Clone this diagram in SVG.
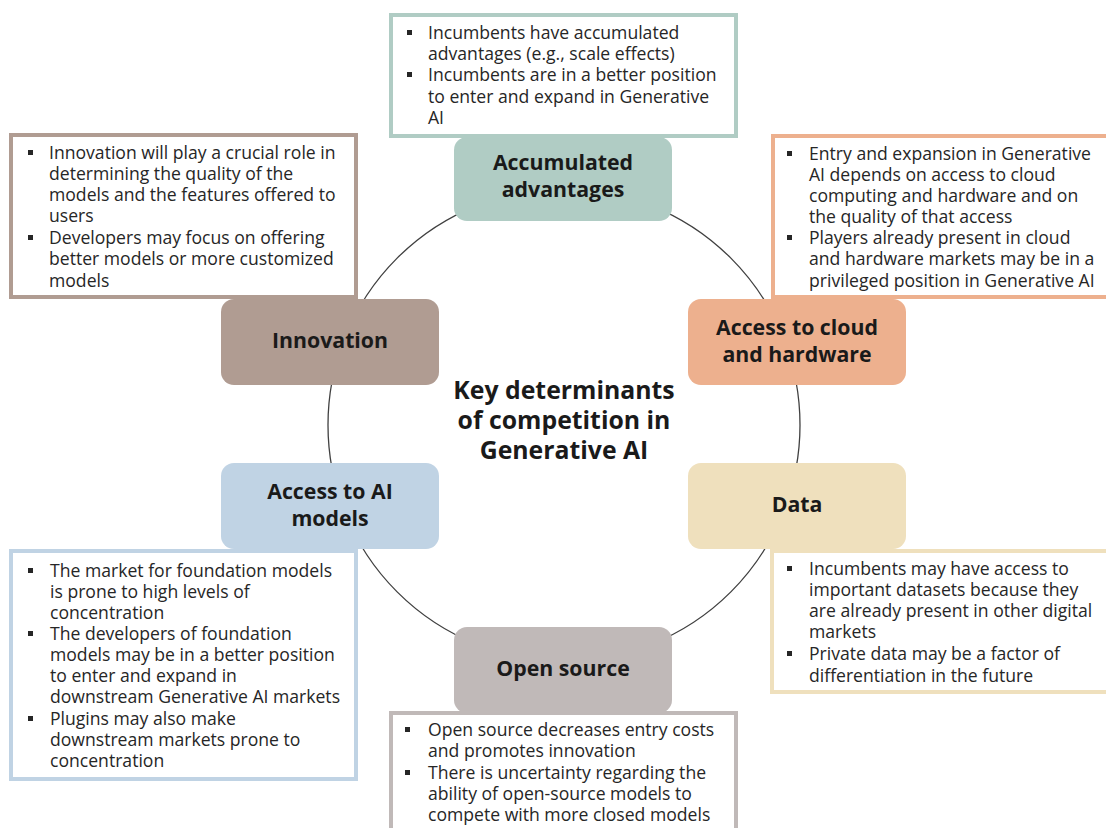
<svg xmlns="http://www.w3.org/2000/svg" width="1106" height="828" viewBox="0 0 1106 828">
<style>
.body{font-family:"Open Sans","Liberation Sans",sans-serif;font-size:17.6px;fill:#262626}
.lbl{font-family:"Open Sans","Liberation Sans",sans-serif;font-size:21.3px;font-weight:bold;fill:#1a1a1a;text-anchor:middle}
.ctr{font-family:"Open Sans","Liberation Sans",sans-serif;font-size:24.8px;font-weight:bold;fill:#1a1a1a;text-anchor:middle}
.tb{fill:#ffffff;stroke-width:4}
.bul{fill:#262626}
</style>
<rect width="1106" height="828" fill="#ffffff"/>
<g id="connectors">
<circle cx="564" cy="425" r="236" fill="none" stroke="#404040" stroke-width="1.3"/>
</g>
<g id="center">
<text class="ctr" x="564" y="399">Key determinants</text>
<text class="ctr" x="564" y="429">of competition in</text>
<text class="ctr" x="564" y="459">Generative AI</text>
</g>
<g id="accumulated">
<rect x="454" y="137" width="218" height="84" rx="13" fill="#b0ccc4"/>
<text class="lbl" x="563" y="170">Accumulated</text>
<text class="lbl" x="563" y="197">advantages</text>
<rect class="tb" x="391" y="15" width="345" height="121" stroke="#b0ccc4"/>
<rect class="bul" x="407" y="30" width="5" height="5"/>
<rect class="bul" x="407" y="72" width="5" height="5"/>
<text class="body" x="428" y="39">Incumbents have accumulated</text>
<text class="body" x="428" y="60">advantages (e.g., scale effects)</text>
<text class="body" x="428" y="81">Incumbents are in a better position</text>
<text class="body" x="428" y="103">to enter and expand in Generative</text>
<text class="body" x="428" y="124">AI</text>
</g>
<g id="innovation">
<rect x="221" y="299" width="218" height="86" rx="13" fill="#b09c92"/>
<text class="lbl" x="330" y="348">Innovation</text>
<rect class="tb" x="11" y="135" width="345" height="162" stroke="#b09c92"/>
<rect class="bul" x="28" y="150" width="5" height="5"/>
<rect class="bul" x="28" y="235" width="5" height="5"/>
<text class="body" x="49" y="159">Innovation will play a crucial role in</text>
<text class="body" x="49" y="180">determining the quality of the</text>
<text class="body" x="49" y="201">models and the features offered to</text>
<text class="body" x="49" y="222">users</text>
<text class="body" x="49" y="244">Developers may focus on offering</text>
<text class="body" x="49" y="265">better models or more customized</text>
<text class="body" x="49" y="287">models</text>
</g>
<g id="cloud">
<rect x="688" y="299" width="218" height="86" rx="13" fill="#edb08e"/>
<text class="lbl" x="797" y="335">Access to cloud</text>
<text class="lbl" x="797" y="362">and hardware</text>
<rect class="tb" x="773" y="136" width="340" height="161" stroke="#edb08e"/>
<rect class="bul" x="787" y="151" width="5" height="5"/>
<rect class="bul" x="787" y="235" width="5" height="5"/>
<text class="body" x="809" y="160">Entry and expansion in Generative</text>
<text class="body" x="809" y="181">AI depends on access to cloud</text>
<text class="body" x="809" y="202">computing and hardware and on</text>
<text class="body" x="809" y="223">the quality of that access</text>
<text class="body" x="809" y="244">Players already present in cloud</text>
<text class="body" x="809" y="265">and hardware markets may be in a</text>
<text class="body" x="809" y="287">privileged position in Generative AI</text>
</g>
<g id="aimodels">
<rect x="221" y="463" width="218" height="86" rx="13" fill="#c0d3e4"/>
<text class="lbl" x="330" y="499">Access to AI</text>
<text class="lbl" x="330" y="526">models</text>
<rect class="tb" x="11" y="551" width="345" height="228" stroke="#c0d3e4"/>
<rect class="bul" x="28" y="568" width="5" height="5"/>
<rect class="bul" x="28" y="631" width="5" height="5"/>
<rect class="bul" x="28" y="716" width="5" height="5"/>
<text class="body" x="50" y="577">The market for foundation models</text>
<text class="body" x="50" y="598">is prone to high levels of</text>
<text class="body" x="50" y="619">concentration</text>
<text class="body" x="50" y="640">The developers of foundation</text>
<text class="body" x="50" y="661">models may be in a better position</text>
<text class="body" x="50" y="682">to enter and expand in</text>
<text class="body" x="50" y="703">downstream Generative AI markets</text>
<text class="body" x="50" y="725">Plugins may also make</text>
<text class="body" x="50" y="746">downstream markets prone to</text>
<text class="body" x="50" y="767">concentration</text>
</g>
<g id="data">
<rect x="688" y="463" width="218" height="86" rx="13" fill="#efe0bd"/>
<text class="lbl" x="797" y="512">Data</text>
<rect class="tb" x="772" y="551" width="340" height="141" stroke="#efe0bd"/>
<rect class="bul" x="787" y="566" width="5" height="5"/>
<rect class="bul" x="787" y="651" width="5" height="5"/>
<text class="body" x="809" y="575">Incumbents may have access to</text>
<text class="body" x="809" y="596">important datasets because they</text>
<text class="body" x="809" y="617">are already present in other digital</text>
<text class="body" x="809" y="638">markets</text>
<text class="body" x="809" y="660">Private data may be a factor of</text>
<text class="body" x="809" y="682">differentiation in the future</text>
</g>
<g id="opensource">
<rect x="454" y="627" width="218" height="86" rx="13" fill="#c0b9b8"/>
<text class="lbl" x="563" y="676">Open source</text>
<rect class="tb" x="391" y="713" width="345" height="130" stroke="#c0b9b8"/>
<rect class="bul" x="405" y="727" width="5" height="5"/>
<rect class="bul" x="405" y="770" width="5" height="5"/>
<text class="body" x="428" y="736">Open source decreases entry costs</text>
<text class="body" x="428" y="757">and promotes innovation</text>
<text class="body" x="428" y="779">There is uncertainty regarding the</text>
<text class="body" x="428" y="800">ability of open-source models to</text>
<text class="body" x="428" y="821">compete with more closed models</text>
</g>
</svg>
